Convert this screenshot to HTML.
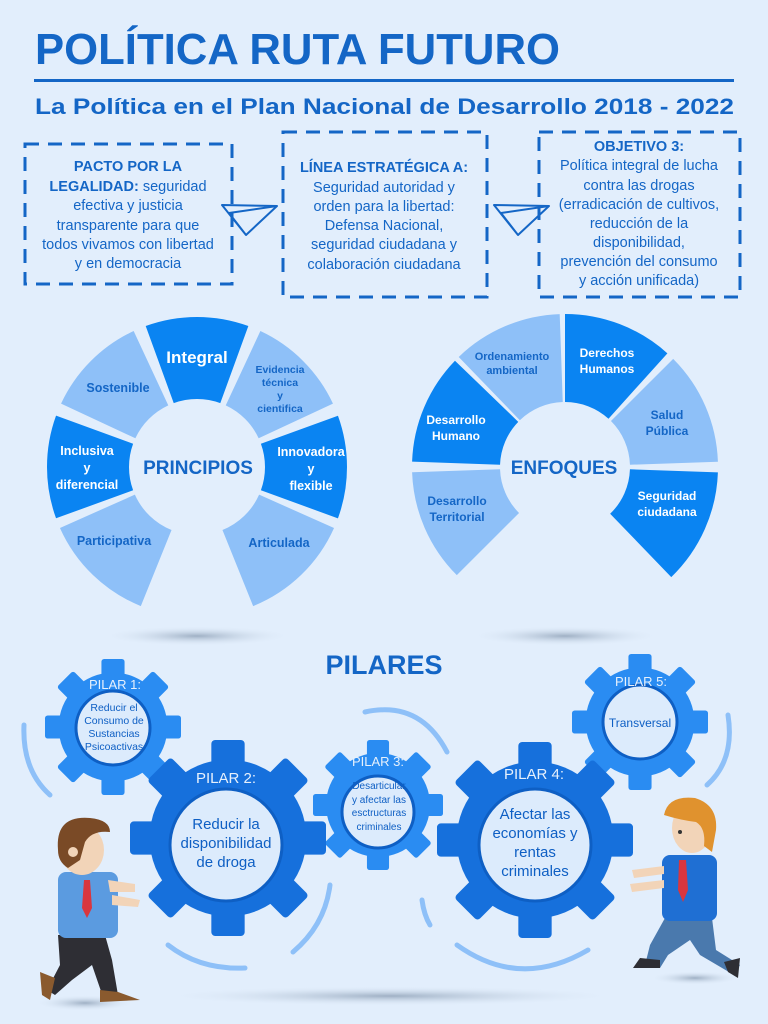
<!DOCTYPE html>
<html><head><meta charset="utf-8"><style>
html,body{margin:0;padding:0;background:#e2eefc;}
svg{display:block;}
text{font-family:"Liberation Sans",sans-serif;}
</style></head><body>
<svg width="768" height="1024" viewBox="0 0 768 1024" xmlns="http://www.w3.org/2000/svg">
<defs>
<radialGradient id="sh" cx="50%" cy="50%" r="50%"><stop offset="0" stop-color="#9fb0c4"/><stop offset="1" stop-color="#e2eefc" stop-opacity="0"/></radialGradient>
<g id="gear">
<circle r="80"/>
<rect x="-17" y="-100" width="34" height="30" rx="4"/>
<rect x="-17" y="-100" width="34" height="30" rx="4" transform="rotate(45)"/>
<rect x="-17" y="-100" width="34" height="30" rx="4" transform="rotate(90)"/>
<rect x="-17" y="-100" width="34" height="30" rx="4" transform="rotate(135)"/>
<rect x="-17" y="-100" width="34" height="30" rx="4" transform="rotate(180)"/>
<rect x="-17" y="-100" width="34" height="30" rx="4" transform="rotate(225)"/>
<rect x="-17" y="-100" width="34" height="30" rx="4" transform="rotate(270)"/>
<rect x="-17" y="-100" width="34" height="30" rx="4" transform="rotate(315)"/>
</g>
</defs>
<rect width="768" height="1024" fill="#e2eefc"/>

<!-- Header -->
<text x="35" y="64" font-size="44" font-weight="bold" fill="#1466c6" textLength="525" lengthAdjust="spacingAndGlyphs">POLÍTICA RUTA FUTURO</text>
<rect x="34" y="79" width="700" height="3" fill="#1466c6"/>
<text x="35" y="114" font-size="22" font-weight="bold" fill="#1466c6" textLength="699" lengthAdjust="spacingAndGlyphs">La Política en el Plan Nacional de Desarrollo 2018 - 2022</text>

<!-- Dashed boxes -->
<g fill="none" stroke="#1466c6" stroke-width="3" stroke-dasharray="14,9">
<rect x="25" y="144" width="207" height="140"/>
<rect x="283" y="132" width="204" height="165"/>
<rect x="539" y="132" width="201" height="165"/>
</g>
<g font-size="14.5" fill="#1466c6" text-anchor="middle">
<text x="128" y="171" font-weight="bold">PACTO POR LA</text>
<text x="128" y="191"><tspan font-weight="bold">LEGALIDAD:</tspan> seguridad</text>
<text x="128" y="210">efectiva y justicia</text>
<text x="128" y="230">transparente para que</text>
<text x="128" y="249">todos vivamos con libertad</text>
<text x="128" y="268">y en democracia</text>
<text x="384" y="172" font-weight="bold">LÍNEA ESTRATÉGICA A:</text>
<text x="384" y="192">Seguridad autoridad y</text>
<text x="384" y="211">orden para la libertad:</text>
<text x="384" y="230">Defensa Nacional,</text>
<text x="384" y="249">seguridad ciudadana y</text>
<text x="384" y="269">colaboración ciudadana</text>
<text x="639" y="151" font-weight="bold">OBJETIVO 3:</text>
<text x="639" y="170">Política integral de lucha</text>
<text x="639" y="190">contra las drogas</text>
<text x="639" y="209">(erradicación de cultivos,</text>
<text x="639" y="228">reducción de la</text>
<text x="639" y="247">disponibilidad,</text>
<text x="639" y="266">prevención del consumo</text>
<text x="639" y="285">y acción unificada)</text>
</g>
<!-- paper planes -->
<g fill="none" stroke="#1466c6" stroke-width="2" stroke-linejoin="round">
<path d="M222 205 L277 206 L246 235 Z M229 213 L277 206 M229 213 L246 235"/>
<path d="M494 205 L549 206 L518 235 Z M501 213 L549 206 M501 213 L518 235"/>
</g>

<!-- Shadows -->
<ellipse cx="197" cy="636" rx="95" ry="10" fill="url(#sh)"/>
<ellipse cx="565" cy="636" rx="95" ry="10" fill="url(#sh)"/>
<ellipse cx="390" cy="996" rx="230" ry="10" fill="url(#sh)"/>
<ellipse cx="85" cy="1003" rx="50" ry="8" fill="url(#sh)"/>
<ellipse cx="695" cy="978" rx="45" ry="7" fill="url(#sh)"/>

<!-- PRINCIPIOS ring: r mid 109, sw 82, circumference 684.9 -->
<g fill="none" stroke-width="82">
<circle cx="197" cy="467" r="109" stroke="#0a84f2" stroke-dasharray="76.1 700" transform="rotate(-110 197 467)"/>
<circle cx="197" cy="467" r="109" stroke="#8ec0f8" stroke-dasharray="76.1 700" transform="rotate(-65 197 467)"/>
<circle cx="197" cy="467" r="109" stroke="#0a84f2" stroke-dasharray="76.1 700" transform="rotate(-20 197 467)"/>
<circle cx="197" cy="467" r="109" stroke="#8ec0f8" stroke-dasharray="83.7 700" transform="rotate(24 197 467)"/>
<circle cx="197" cy="467" r="109" stroke="#8ec0f8" stroke-dasharray="83.7 700" transform="rotate(112 197 467)"/>
<circle cx="197" cy="467" r="109" stroke="#0a84f2" stroke-dasharray="76.1 700" transform="rotate(160 197 467)"/>
<circle cx="197" cy="467" r="109" stroke="#8ec0f8" stroke-dasharray="76.1 700" transform="rotate(205 197 467)"/>
</g>
<g font-weight="bold" text-anchor="middle">
<text x="197" y="363" font-size="17" fill="#fff">Integral</text>
<text x="118" y="392" font-size="12.5" fill="#1466c6">Sostenible</text>
<text x="280" y="373" font-size="10.5" fill="#1466c6">Evidencia</text>
<text x="280" y="386" font-size="10.5" fill="#1466c6">técnica</text>
<text x="280" y="399" font-size="10.5" fill="#1466c6">y</text>
<text x="280" y="412" font-size="10.5" fill="#1466c6">cientifica</text>
<text x="87" y="455" font-size="12.5" fill="#fff">Inclusiva</text>
<text x="87" y="472" font-size="12.5" fill="#fff">y</text>
<text x="87" y="489" font-size="12.5" fill="#fff">diferencial</text>
<text x="311" y="456" font-size="12.5" fill="#fff">Innovadora</text>
<text x="311" y="473" font-size="12.5" fill="#fff">y</text>
<text x="311" y="490" font-size="12.5" fill="#fff">flexible</text>
<text x="114" y="545" font-size="12.5" fill="#1466c6">Participativa</text>
<text x="279" y="547" font-size="12.5" fill="#1466c6">Articulada</text>
<text x="198" y="474" font-size="19" fill="#1466c6">PRINCIPIOS</text>
</g>

<!-- ENFOQUES ring: r mid 109, sw 88 -->
<g fill="none" stroke-width="88">
<circle cx="565" cy="467" r="109" stroke="#0a84f2" stroke-dasharray="83.7 700" transform="rotate(2 565 467)"/>
<circle cx="565" cy="467" r="109" stroke="#8ec0f8" stroke-dasharray="81.8 700" transform="rotate(-45 565 467)"/>
<circle cx="565" cy="467" r="109" stroke="#0a84f2" stroke-dasharray="79.9 700" transform="rotate(-90 565 467)"/>
<circle cx="565" cy="467" r="109" stroke="#8ec0f8" stroke-dasharray="79.9 700" transform="rotate(-134 565 467)"/>
<circle cx="565" cy="467" r="109" stroke="#0a84f2" stroke-dasharray="79.9 700" transform="rotate(182 565 467)"/>
<circle cx="565" cy="467" r="109" stroke="#8ec0f8" stroke-dasharray="81.8 700" transform="rotate(135 565 467)"/>
</g>
<g font-weight="bold" text-anchor="middle" font-size="12">
<text x="512" y="360" font-size="11" fill="#1466c6">Ordenamiento</text>
<text x="512" y="374" font-size="11" fill="#1466c6">ambiental</text>
<text x="607" y="357" fill="#fff">Derechos</text>
<text x="607" y="373" fill="#fff">Humanos</text>
<text x="456" y="424" fill="#fff">Desarrollo</text>
<text x="456" y="440" fill="#fff">Humano</text>
<text x="667" y="419" fill="#1466c6">Salud</text>
<text x="667" y="435" fill="#1466c6">Pública</text>
<text x="457" y="505" fill="#1466c6">Desarrollo</text>
<text x="457" y="521" fill="#1466c6">Territorial</text>
<text x="667" y="500" fill="#fff">Seguridad</text>
<text x="667" y="516" fill="#fff">ciudadana</text>
<text x="564" y="474" font-size="19" fill="#1466c6">ENFOQUES</text>
</g>

<!-- PILARES -->
<text x="384" y="674" font-size="27" font-weight="bold" fill="#1466c6" text-anchor="middle">PILARES</text>

<!-- arcs -->
<g fill="none" stroke="#8ec0f8" stroke-width="5" stroke-linecap="round">
<path d="M24 725 Q22 770 50 795"/>
<path d="M168 945 Q200 970 245 968"/>
<path d="M330 885 Q325 925 293 952"/>
<path d="M365 712 Q420 700 447 752"/>
<path d="M422 900 Q424 915 430 925"/>
<path d="M457 945 Q520 990 588 950"/>
<path d="M728 715 Q735 760 707 785"/>
</g>

<!-- gears -->
<use href="#gear" transform="translate(113,727) scale(0.68)" fill="#2a8cf2"/>
<use href="#gear" transform="translate(640,722) scale(0.68)" fill="#2a8cf2"/>
<use href="#gear" transform="translate(378,805) scale(0.65)" fill="#2a8cf2"/>
<use href="#gear" transform="translate(228,838) scale(0.98)" fill="#1670dc"/>
<use href="#gear" transform="translate(535,840) scale(0.98)" fill="#1670dc"/>
<g fill="#dcebfc" stroke="#0e5fc4" stroke-width="3">
<circle cx="113" cy="728" r="37"/>
<circle cx="640" cy="722" r="37"/>
<circle cx="378" cy="812" r="36"/>
<circle cx="226" cy="845" r="56"/>
<circle cx="535" cy="845" r="56"/>
</g>
<g fill="#e6f0fc" text-anchor="middle" font-size="13">
<text x="115" y="689">PILAR 1:</text>
<text x="641" y="686">PILAR 5:</text>
<text x="378" y="766">PILAR 3:</text>
<text x="226" y="783" font-size="15">PILAR 2:</text>
<text x="534" y="779" font-size="15">PILAR 4:</text>
</g>
<g fill="#0e5fc4" text-anchor="middle">
<g font-size="10.5">
<text x="114" y="711">Reducir el</text>
<text x="114" y="724">Consumo de</text>
<text x="114" y="737">Sustancias</text>
<text x="114" y="750">Psicoactivas</text>
</g>
<text x="640" y="727" font-size="12">Transversal</text>
<g font-size="10">
<text x="379" y="789">Desarticular</text>
<text x="379" y="803">y afectar las</text>
<text x="379" y="816">esctructuras</text>
<text x="379" y="830">criminales</text>
</g>
<g font-size="15">
<text x="226" y="829">Reducir la</text>
<text x="226" y="848">disponibilidad</text>
<text x="226" y="867">de droga</text>
</g>
<g font-size="15">
<text x="535" y="819">Afectar las</text>
<text x="535" y="838">economías y</text>
<text x="535" y="857">rentas</text>
<text x="535" y="876">criminales</text>
</g>
</g>

<!-- left person -->
<g>
<path d="M58 935 L105 935 L112 960 L118 995 L103 997 L92 965 L72 980 L55 995 L47 990 L60 965 Z" fill="#2e2e34"/>
<path d="M40 972 L55 978 L50 1000 L42 995 Z" fill="#8a5a2e"/>
<path d="M100 990 L118 992 L140 1000 L100 1002 Z" fill="#8a5a2e"/>
<rect x="58" y="872" width="60" height="66" rx="8" fill="#5b9be0"/>
<path d="M84 880 L90 880 L92 908 L87 918 L82 908 Z" fill="#d9363e"/>
<path d="M108 880 L135 884 L135 892 L110 892 Z" fill="#f2d4b8"/>
<path d="M112 895 L140 900 L138 907 L112 905 Z" fill="#f2d4b8"/>
<ellipse cx="82" cy="850" rx="22" ry="25" fill="#f2d4b8"/>
<path d="M58 850 Q55 815 90 818 Q110 820 110 832 Q92 830 85 842 L80 860 L68 868 Q58 862 58 850 Z" fill="#7a4a26"/>
<circle cx="73" cy="852" r="5" fill="#f2d4b8"/>
</g>

<!-- right person -->
<g>
<path d="M665 918 L712 918 L716 950 L740 965 L734 975 L700 955 L690 940 L668 955 L660 968 L645 965 L650 945 Z" fill="#4a79ad"/>
<path d="M640 958 L660 960 L660 968 L633 968 Z" fill="#2e2e34"/>
<path d="M724 962 L740 958 L738 978 L728 972 Z" fill="#2e2e34"/>
<rect x="662" y="855" width="55" height="66" rx="8" fill="#1f6fd3"/>
<path d="M679 860 L686 860 L688 890 L683 902 L678 890 Z" fill="#d9363e"/>
<path d="M632 870 L664 866 L664 874 L634 878 Z" fill="#f2d4b8"/>
<path d="M630 884 L664 880 L664 888 L632 892 Z" fill="#f2d4b8"/>
<ellipse cx="692" cy="828" rx="20" ry="25" fill="#f2d4b8"/>
<path d="M664 815 Q668 795 695 798 Q718 805 716 830 L712 852 L704 846 Q706 828 696 822 Q680 820 664 815 Z" fill="#e0922e"/>
<circle cx="680" cy="832" r="2" fill="#333"/>
</g>
</svg>
</body></html>
